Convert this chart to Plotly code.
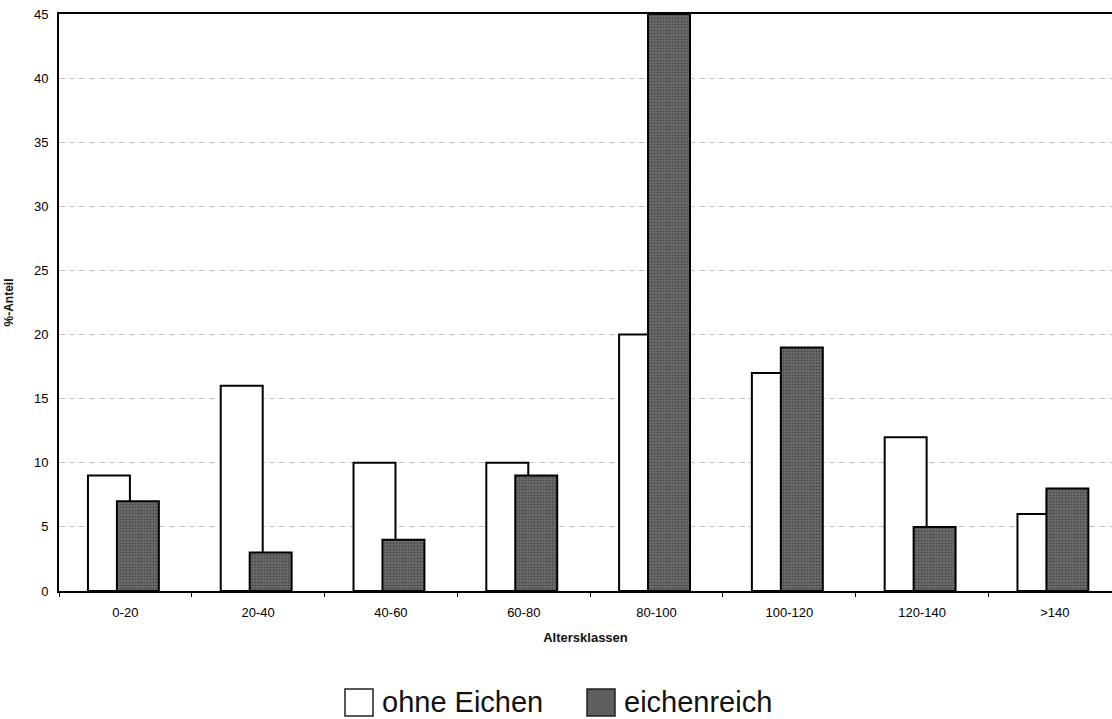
import plotly.graph_objects as go

categories = ["0-20", "20-40", "40-60", "60-80", "80-100", "100-120", "120-140", ">140"]
ohne_eichen = [9, 16, 10, 10, 20, 17, 12, 6]
eichenreich = [7, 3, 4, 9, 45, 19, 5, 8]
y_ticks = [0, 5, 10, 15, 20, 25, 30, 35, 40, 45]
legend_names = ["ohne Eichen", "eichenreich"]

W, H = 1112, 719
ML, MR, MT, MB = 59, 0, 14, 128
PW, PH = W - ML - MR, H - MT - MB

def px(x):
    return (x - ML) / PW

def py(y):
    return (H - MB - y) / PH

white_marker = dict(color="white", line=dict(color="black", width=2))
dark_marker = dict(color="#5e5e5e", line=dict(color="black", width=2),
                   pattern=dict(shape=".", fgcolor="#222", bgcolor="#6e6e6e", size=3, solidity=0.4))

fig = go.Figure()
fig.add_trace(go.Bar(
    x=categories, y=ohne_eichen, name=legend_names[0],
    width=0.316, offset=-0.282, marker=white_marker, showlegend=False,
))
fig.add_trace(go.Bar(
    x=categories, y=eichenreich, name=legend_names[1],
    width=0.316, offset=-0.064, marker=dark_marker, showlegend=False,
))

# custom legend (large square swatches as in the original)
legend_items = [(345, 380, "white", legend_names[0]), (587, 622, "#5e5e5e", legend_names[1])]
for sx, tx, col, name in legend_items:
    fig.add_shape(type="rect", xref="paper", yref="paper",
                  x0=px(sx), x1=px(sx + 28), y0=py(716), y1=py(689),
                  fillcolor=col, line=dict(color="#222", width=1.5))
    fig.add_annotation(xref="paper", yref="paper", x=px(tx), y=py(702),
                       xanchor="left", yanchor="middle", showarrow=False,
                       text=name, font=dict(size=29, color="#111"))

fig.update_layout(
    width=W, height=H,
    paper_bgcolor="white", plot_bgcolor="white",
    margin=dict(l=ML, r=MR, t=MT, b=MB, autoexpand=False),
    barmode="overlay",
    font=dict(family="Liberation Sans, Arial, sans-serif", color="#111"),
    showlegend=False,
)
fig.update_xaxes(
    type="category", range=[-0.5, 7.43], automargin=False,
    showline=True, linecolor="black", linewidth=2, mirror=True,
    ticks="outside", tickson="boundaries", ticklen=4, tickcolor="black",
    tickfont=dict(size=13, color="#000"), ticklabelstandoff=8, showgrid=False,
    title=dict(text="<b>Altersklassen</b>", font=dict(size=13), standoff=14),
)
fig.update_yaxes(
    range=[0, 45], tickvals=y_ticks, automargin=False,
    showline=True, linecolor="black", linewidth=2,
    ticks="", tickfont=dict(size=13, color="#000"), ticklabelstandoff=6,
    showgrid=True, gridcolor="#c4c4c4", gridwidth=1, griddash="6px,4px",
    zeroline=False,
    title=dict(text="<b>%-Anteil</b>", font=dict(size=12), standoff=18),
)

fig.write_html("out.html",
               config={"displayModeBar": False},
               post_script="document.body.style.margin='0';document.body.style.overflow='hidden';")
